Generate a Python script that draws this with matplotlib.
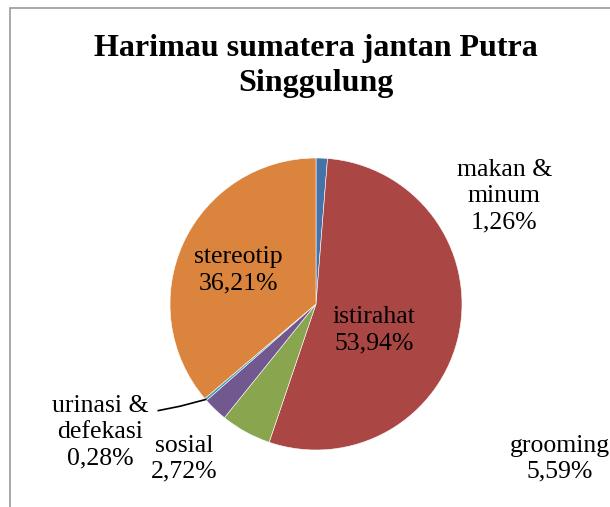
"""Pie chart of activity budget for the Sumatran tiger Putra Singgulung."""
import matplotlib
matplotlib.use("Agg")
import matplotlib.pyplot as plt
import numpy as np
from matplotlib.patches import Rectangle

labels = ["makan &\nminum", "istirahat", "grooming", "sosial",
          "urinasi &\ndefekasi", "stereotip"]
values = [1.26, 53.94, 5.59, 2.72, 0.28, 36.21]
pct_text = ["1,26%", "53,94%", "5,59%", "2,72%", "0,28%", "36,21%"]
colors = ["#4572A7", "#AA4643", "#89A54E", "#71588F", "#4198AF", "#DB843D"]

# label anchor positions in pie units (radius = 1)
label_pos = [(1.29, 0.74), (0.40, -0.18), (1.67, -1.06), (-0.90, -1.06),
             (-1.48, -0.88), (-0.53, 0.23)]

plt.rcParams["font.family"] = ["Liberation Serif", "DejaVu Serif"]

fig = plt.figure(figsize=(6.10, 5.07), dpi=100)
fig.patches.append(Rectangle((10 / 610, -0.1), 1.2, (507 - 8) / 507 + 0.1,
                             transform=fig.transFigure, fill=False,
                             edgecolor="#9a9a9a", linewidth=1.2))

ax = fig.add_axes([(316 - 146) / 610, (203 - 146) / 507, 292 / 610, 292 / 507])
wedges, _ = ax.pie(values, colors=colors, startangle=90, counterclock=False,
                   wedgeprops=dict(linewidth=0.4, edgecolor="white"))
ax.set_xlim(-1, 1)
ax.set_ylim(-1, 1)
ax.set_aspect("equal")
ax.axis("off")

for lab, pct, (x, y) in zip(labels, pct_text, label_pos):
    ax.text(x, y, f"{lab}\n{pct}", ha="center", va="center", fontsize=18.5,
            linespacing=1.25, clip_on=False)

# leader line for the tiny urinasi slice
w = wedges[4]
mid = np.deg2rad((w.theta1 + w.theta2) / 2)
ex, ey = np.cos(mid), np.sin(mid)
ax.plot([-1.08, -0.93, ex], [-0.73, -0.70, ey], color="black", lw=1.2,
        clip_on=False)

fig.text(316 / 610, 1 - 66 / 507, "Harimau sumatera jantan Putra\nSinggulung",
         ha="center", va="center", fontsize=23, fontweight="bold",
         linespacing=1.3)

fig.savefig("out.png", dpi=100)
